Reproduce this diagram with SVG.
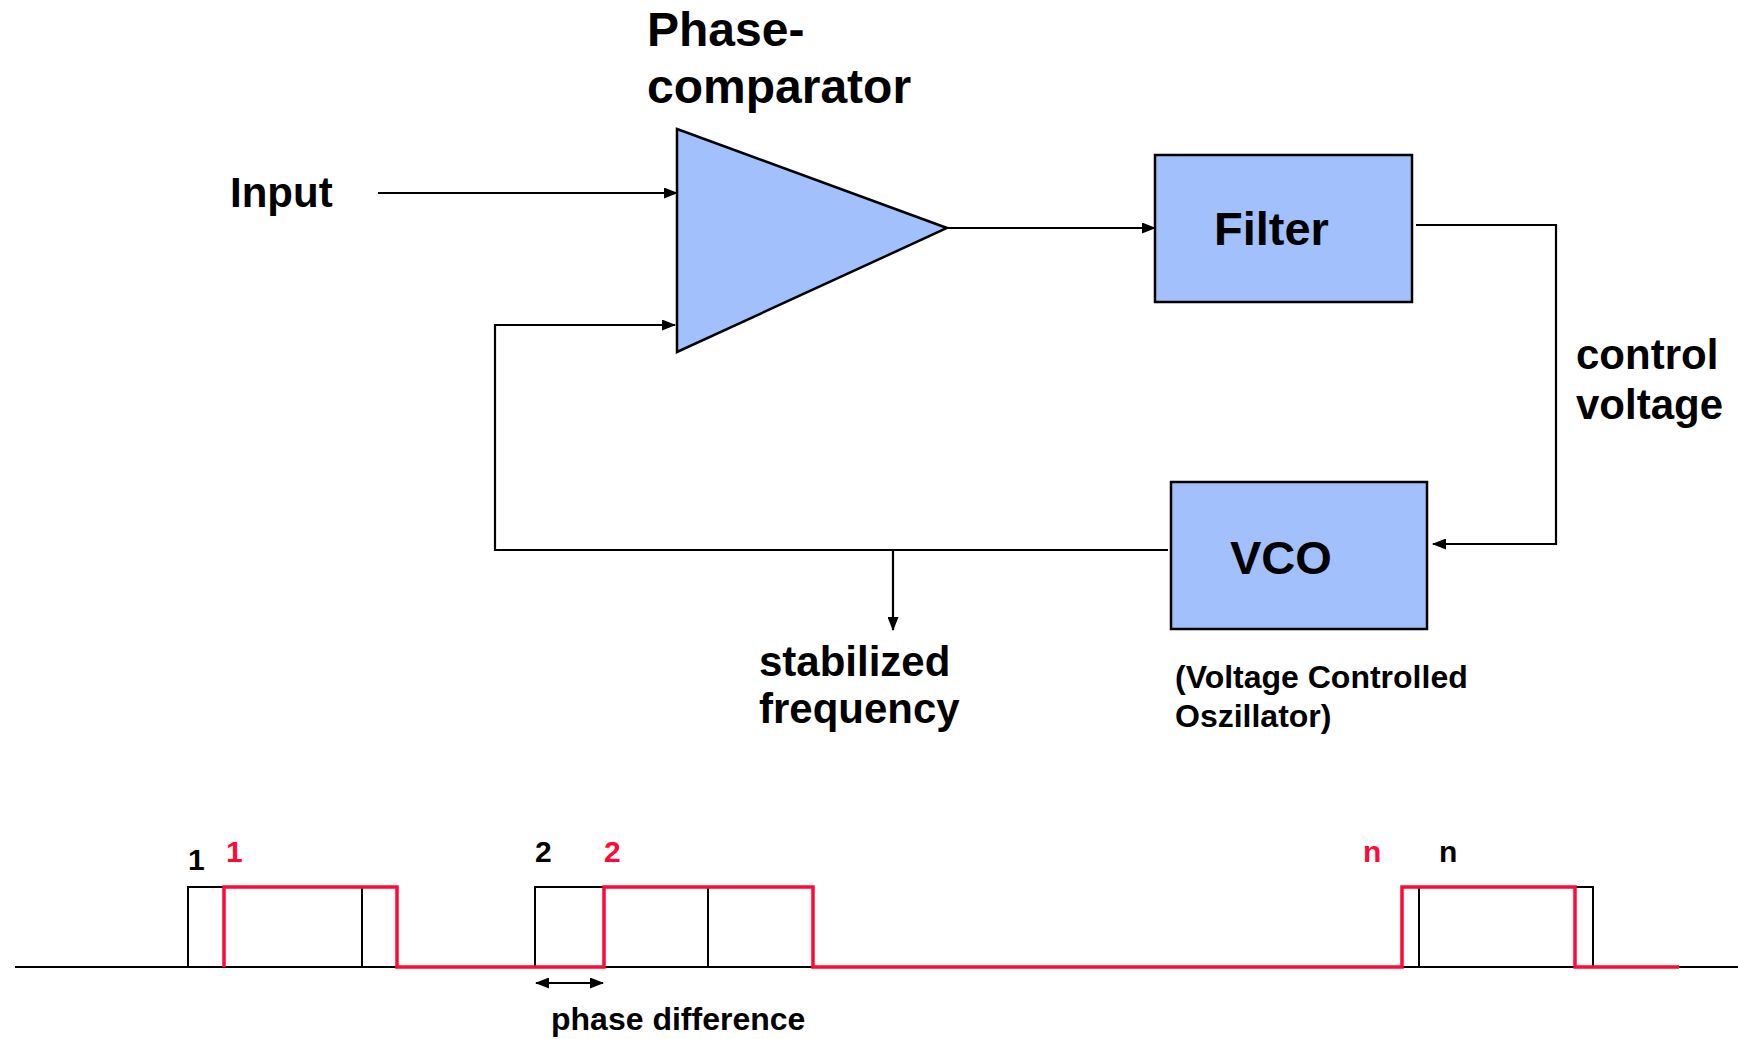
<svg xmlns="http://www.w3.org/2000/svg" width="1738" height="1039" viewBox="0 0 1738 1039">
<style>
text{font-family:"Liberation Sans",Arial,Helvetica,sans-serif;font-weight:bold;fill:#000}
.big{font-size:48px}
.lbl{font-size:42px}
.box{font-size:47px}
.small{font-size:32px}
.num{font-size:30px}
.red{fill:#FF0A36}
.node{fill:#A2C1FC;stroke:#000;stroke-width:2.5}
.conn{fill:none;stroke:#000;stroke-width:2.2}
.wave{fill:none;stroke:#000;stroke-width:2}
.redw{fill:none;stroke:#FF0A36;stroke-width:3.5}
</style>
<defs>
<marker id="ah" markerWidth="14" markerHeight="11" refX="13" refY="5.5" orient="auto-start-reverse" markerUnits="userSpaceOnUse">
<path d="M0,0 L14,5.5 L0,11 z" fill="#000"/>
</marker>
</defs>
<rect width="1738" height="1039" fill="#fff"/>

<g id="phase-comparator">
<polygon class="node" points="677,129 947,228 677,352"/>
<text class="big" x="647" y="46">Phase-</text>
<text class="big" x="647" y="103">comparator</text>
</g>

<g id="filter">
<rect class="node" x="1155" y="155" width="257" height="147"/>
<text class="box" x="1214" y="245">Filter</text>
</g>

<g id="vco">
<rect class="node" x="1171" y="482" width="256" height="147"/>
<text class="box" x="1230" y="574">VCO</text>
<text class="small" x="1175" y="688">(Voltage Controlled</text>
<text class="small" x="1175" y="727">Oszillator)</text>
</g>

<g id="labels">
<text class="lbl" x="230" y="207">Input</text>
<text class="lbl" x="1576" y="369">control</text>
<text class="lbl" x="1576" y="419">voltage</text>
<text class="lbl" x="759" y="676">stabilized</text>
<text class="lbl" x="759" y="723">frequency</text>
</g>

<g id="connectors">
<path class="conn" d="M378,193 H677" marker-end="url(#ah)"/>
<path class="conn" d="M947,228 H1155" marker-end="url(#ah)"/>
<path class="conn" d="M1416,225 H1556 V544 H1433" marker-end="url(#ah)"/>
<path class="conn" d="M1168,550 H495 V325 H675" marker-end="url(#ah)"/>
<path class="conn" d="M893,550 V630" marker-end="url(#ah)"/>
</g>

<g id="waveform">
<path class="wave" d="M15,967 H1738"/>
<path class="wave" d="M188,967 V887 H362 V967"/>
<path class="wave" d="M535,967 V887 H708 V967"/>
<path class="wave" d="M1419,967 V887 H1593 V967"/>
<path class="redw" d="M224,967 V887 H397 V967 H604 V887 H813 V967 H1402 V887 H1575 V967 H1679"/>
<path class="conn" d="M536,983 H603" marker-start="url(#ah)" marker-end="url(#ah)"/>
<text class="num" x="188" y="870">1</text>
<text class="num red" x="226" y="862">1</text>
<text class="num" x="535" y="862">2</text>
<text class="num red" x="604" y="862">2</text>
<text class="num red" x="1363" y="862">n</text>
<text class="num" x="1439" y="862">n</text>
<text class="small" x="551" y="1030">phase difference</text>
</g>
</svg>
